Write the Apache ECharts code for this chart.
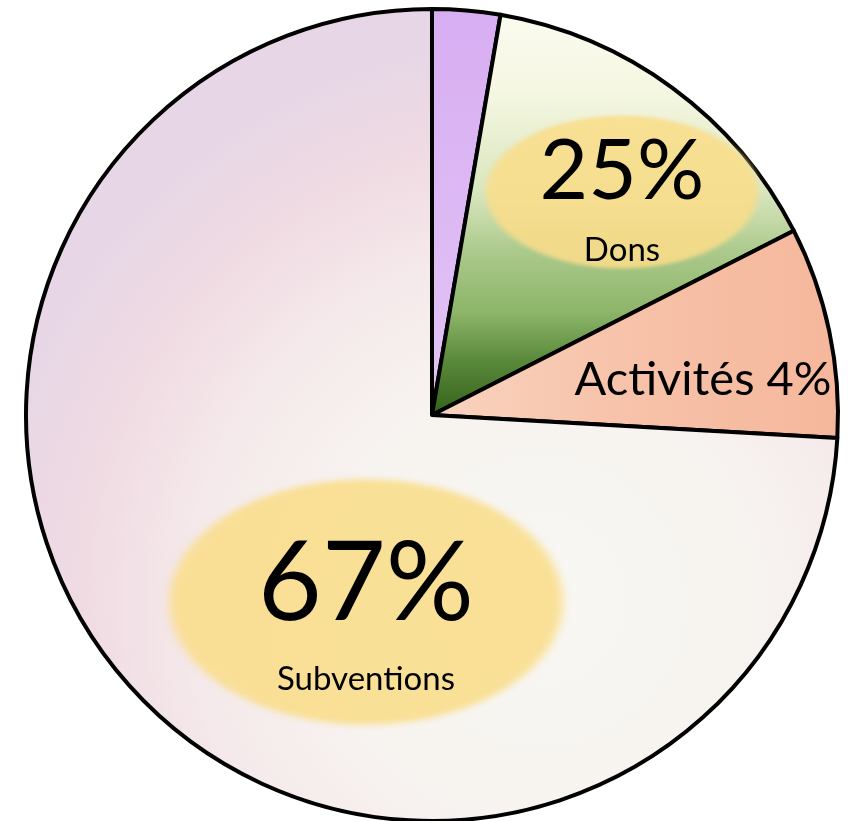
<!DOCTYPE html>
<html>
<head>
<meta charset="utf-8">
<script src="https://cdn.jsdelivr.net/npm/echarts@6/dist/echarts.min.js"></script>
<style>
  html, body { margin: 0; padding: 0; background: #ffffff; }
  #chart { width: 851px; height: 821px; }
</style>
</head>
<body>
<div id="chart"></div>
<script>
// parts of the budget, clockwise from 12 o'clock
var categories = ['Autres', 'Dons', 'Activités', 'Subventions'];
// slice sizes as drawn (share of the circle, %)
var sliceShares = [2.7, 14.8, 8.4, 74.1];
// percentages printed on the slices
var printedPercents = [null, 25, 4, 67];

// ---- styles / layout ----
var FONT = 'Lato, "Open Sans", sans-serif';
var CX = 432, CY = 415, R = 406;

// soft yellow disc, stretched into an ellipse behind a label
function makeBlob(color) {
  var c = document.createElement('canvas');
  c.width = 200; c.height = 200;
  var ctx = c.getContext('2d');
  ctx.filter = 'blur(2px)';
  ctx.fillStyle = color;
  ctx.beginPath();
  ctx.arc(100, 100, 92, 0, Math.PI * 2);
  ctx.fill();
  return c;
}
var blob = makeBlob('rgba(249, 221, 138, 0.88)');

var sliceFills = [
  { type: 'linear', x: 0, y: CY - R, x2: 0, y2: CY, global: true,
    colorStops: [{ offset: 0, color: '#d8aef2' }, { offset: 1, color: '#e2c4f6' }] },
  { type: 'linear', x: 0, y: CY - R, x2: 0, y2: CY, global: true,
    colorStops: [
      { offset: 0, color: '#fcfbf1' },
      { offset: 0.2, color: '#f6f7e2' },
      { offset: 0.45, color: '#d9e6bf' },
      { offset: 0.6, color: '#abc98b' },
      { offset: 0.75, color: '#8cb468' },
      { offset: 0.87, color: '#58883a' },
      { offset: 1, color: '#35621a' }
    ] },
  { type: 'linear', x: CX, y: 0, x2: CX + R, y2: 0, global: true,
    colorStops: [
      { offset: 0, color: '#f9d3bf' },
      { offset: 0.45, color: '#f7c3aa' },
      { offset: 1, color: '#f5b79c' }
    ] },
  { type: 'radial', x: 540, y: 600, r: 570, global: true,
    colorStops: [
      { offset: 0, color: '#f8f7f3' },
      { offset: 0.35, color: '#f7f4f0' },
      { offset: 0.6, color: '#f5eaeb' },
      { offset: 0.8, color: '#f0dbe3' },
      { offset: 1, color: '#e6d6e6' }
    ] }
];

// label centre points
var labelSpots = [null, [622, 192], [703, 380], [366, 602]];

var labelStyles = [
  { show: false },
  {
    show: true,
    formatter: function (p) { return '{big|' + printedPercents[p.dataIndex] + '%}\n{small|' + p.name + '}'; },
    width: 296,
    padding: [8, 0, 2, 0],
    backgroundColor: { image: blob },
    rich: {
      big: { fontFamily: FONT, fontSize: 84, lineHeight: 110, color: '#000' },
      small: { fontFamily: FONT, fontSize: 33, lineHeight: 46, color: '#000' }
    }
  },
  {
    show: true,
    formatter: function (p) { return p.name + ' ' + printedPercents[p.dataIndex] + '%'; },
    fontFamily: FONT,
    fontSize: 47,
    color: '#000'
  },
  {
    show: true,
    formatter: function (p) { return '{big|' + printedPercents[p.dataIndex] + '%}\n{small|' + p.name + '}'; },
    width: 428,
    padding: [56, 0, 21, 0],
    backgroundColor: { image: blob },
    rich: {
      big: { fontFamily: FONT, fontSize: 110, lineHeight: 120, color: '#000' },
      small: { fontFamily: FONT, fontSize: 33, lineHeight: 70, color: '#000' }
    }
  }
];

var chart = echarts.init(document.getElementById('chart'), null, { renderer: 'canvas' });

var pieData = categories.map(function (name, i) {
  return {
    name: name,
    value: sliceShares[i],
    itemStyle: { color: sliceFills[i] },
    label: labelStyles[i]
  };
});

chart.setOption({
  animation: false,
  series: [{
    type: 'pie',
    center: [CX, CY],
    radius: [0, R],
    startAngle: 90,
    clockwise: true,
    silent: true,
    itemStyle: {
      borderColor: '#000',
      borderWidth: 4
    },
    label: {
      position: 'inside',
      align: 'center'
    },
    labelLine: { show: false },
    labelLayout: function (params) {
      var spot = labelSpots[params.dataIndex];
      if (!spot) return {};
      return { x: spot[0], y: spot[1], align: 'center', verticalAlign: 'middle' };
    },
    data: pieData
  }]
});
</script>
</body>
</html>
